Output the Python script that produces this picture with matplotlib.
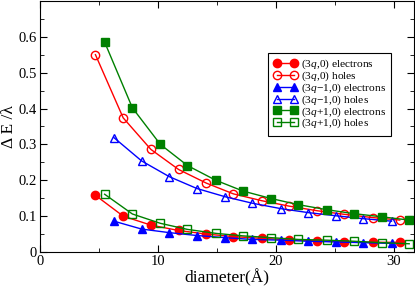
import matplotlib
matplotlib.use('Agg')
import matplotlib.pyplot as plt
from matplotlib.ticker import MultipleLocator

plt.rcParams['font.family'] = ['Liberation Serif', 'DejaVu Serif']
plt.rcParams['mathtext.fontset'] = 'custom'
plt.rcParams['mathtext.rm'] = 'Liberation Serif'
plt.rcParams['mathtext.it'] = 'Liberation Serif:italic'

# diameters (Angstrom) for each family
d_3q = [4.70, 7.05, 9.40, 11.75, 14.1, 16.4, 18.8, 21.1, 23.5, 25.8, 28.2, 30.5]
d_3qm1 = [6.26, 8.61, 10.96, 13.3, 15.7, 18.0, 20.4, 22.7, 25.1, 27.4, 29.8]
d_3qp1 = [5.48, 7.83, 10.2, 12.5, 14.9, 17.2, 19.6, 21.9, 24.3, 26.6, 29.0, 31.3]

e_3q = [0.158, 0.100, 0.075, 0.060, 0.050, 0.043, 0.038, 0.034, 0.031, 0.028, 0.027, 0.027]
h_3q = [0.550, 0.374, 0.286, 0.230, 0.192, 0.162, 0.143, 0.128, 0.115, 0.105, 0.096, 0.089]
e_3qm1 = [0.086, 0.064, 0.054, 0.046, 0.040, 0.035, 0.033, 0.030, 0.028, 0.026, 0.024]
h_3qm1 = [0.319, 0.254, 0.210, 0.177, 0.154, 0.136, 0.121, 0.110, 0.101, 0.093, 0.086]
e_3qp1 = [0.585, 0.402, 0.300, 0.241, 0.200, 0.170, 0.149, 0.132, 0.118, 0.107, 0.098, 0.089]
h_3qp1 = [0.161, 0.106, 0.080, 0.063, 0.052, 0.045, 0.040, 0.035, 0.033, 0.030, 0.026, 0.023]

fig = plt.figure(figsize=(4.15, 2.9), dpi=100)
ax = fig.add_axes([0.0964, 0.131, 0.901, 0.866])

red, blue, green = '#ff0000', '#0000ff', '#008000'
ms = 6
ax.plot(d_3q, e_3q, '-o', color=red, ms=ms, lw=1, label=r'$\mathit{(3q{,}0)}$ electrons')
ax.plot(d_3q, h_3q, '-o', color=red, mfc='none', ms=ms, lw=1, label=r'$\mathit{(3q{,}0)}$ holes')
ax.plot(d_3qm1, e_3qm1, '-^', color=blue, ms=ms, lw=1, label=r'$\mathit{(3q{-}1{,}0)}$ electrons')
ax.plot(d_3qm1, h_3qm1, '-^', color=blue, mfc='none', ms=ms, lw=1, label=r'$\mathit{(3q{-}1{,}0)}$ holes')
ax.plot(d_3qp1, e_3qp1, '-s', color=green, ms=ms, lw=1, label=r'$\mathit{(3q{+}1{,}0)}$ electrons')
ax.plot(d_3qp1, h_3qp1, '-s', color=green, mfc='none', ms=ms, lw=1, label=r'$\mathit{(3q{+}1{,}0)}$ holes')

ax.set_xlim(0, 31.7)
ax.set_ylim(0, 0.7)
ax.xaxis.set_major_locator(MultipleLocator(10))
ax.xaxis.set_minor_locator(MultipleLocator(5))
ax.yaxis.set_minor_locator(MultipleLocator(0.05))
ax.set_yticks([0, 0.1, 0.2, 0.3, 0.4, 0.5, 0.6])
ax.set_yticklabels(['0', '0.1', '0.2', '0.3', '0.4', '0.5', '0.6'])
ax.tick_params(which='both', direction='in', top=True, right=True, labelsize=10.5, pad=2)
ax.tick_params(which='major', length=5)
ax.tick_params(which='minor', length=3)
ax.set_xlabel('diameter(Å)', fontsize=12.5, labelpad=1)
ax.set_ylabel('Δ E /λ', fontsize=12.5, labelpad=1)

leg = ax.legend(loc='upper left', bbox_to_anchor=(0.61, 0.793), numpoints=2,
                fontsize=8.2, fancybox=False, edgecolor='black', framealpha=1,
                handlelength=2.1, handletextpad=0.35, labelspacing=-0.15,
                borderpad=0.45, borderaxespad=0)
leg.get_frame().set_linewidth(0.8)

fig.savefig('out.png', dpi=100)
